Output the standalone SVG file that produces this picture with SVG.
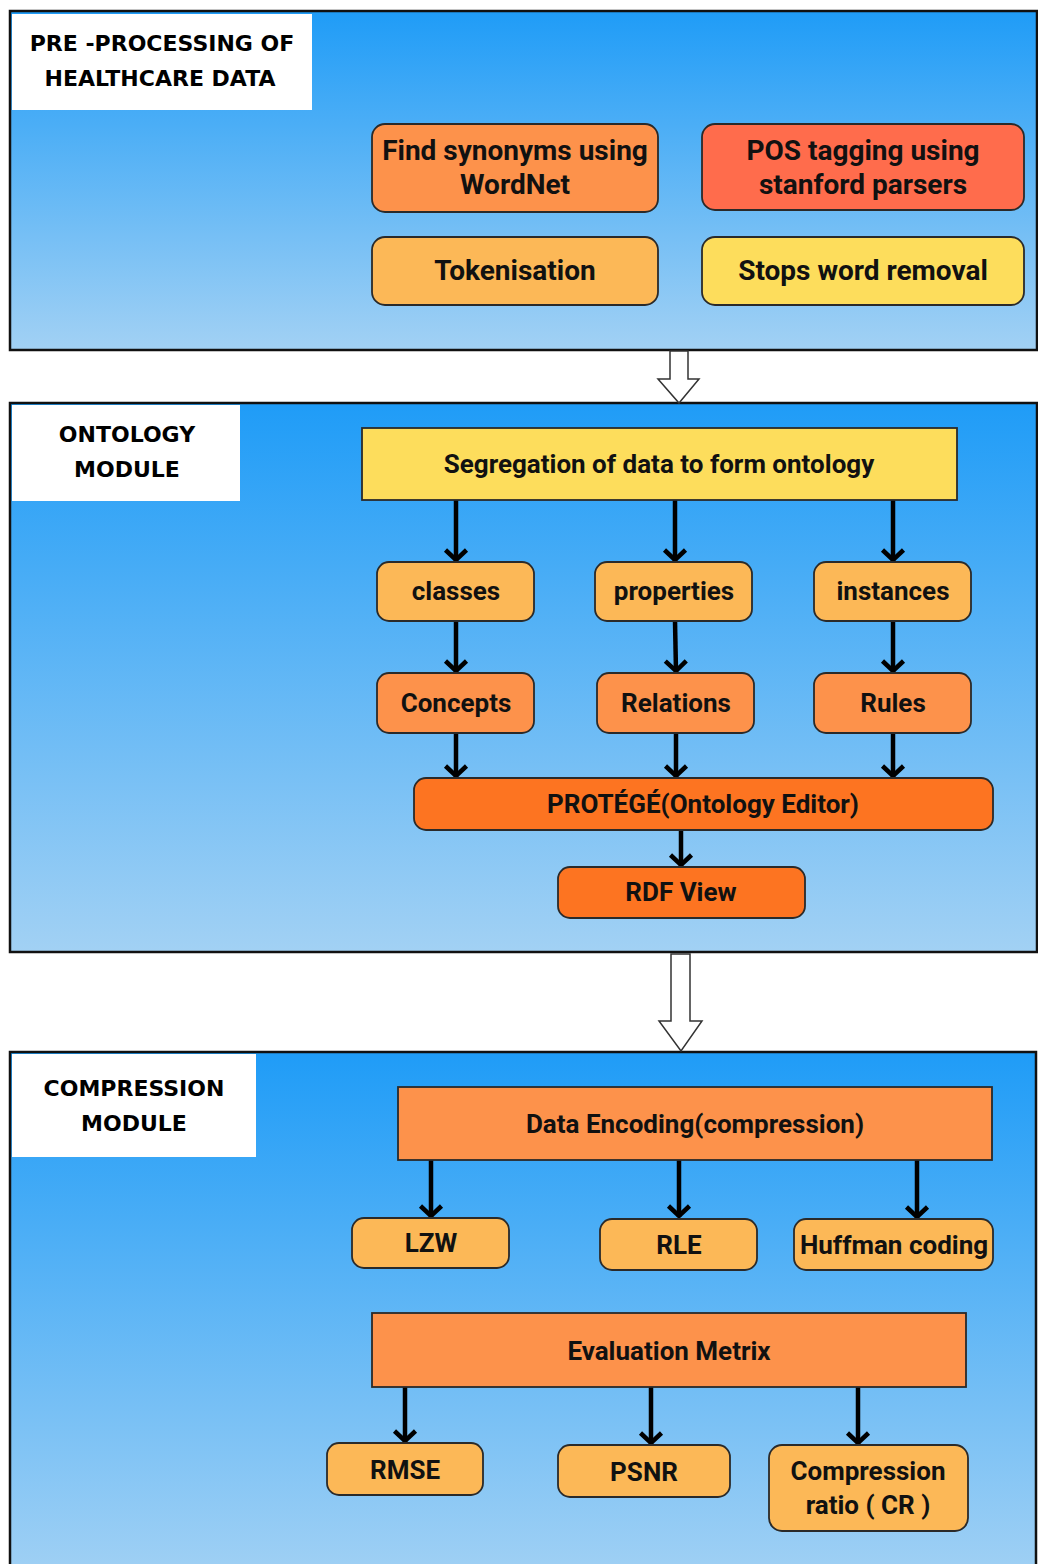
<svg xmlns="http://www.w3.org/2000/svg" width="1038" height="1564" viewBox="0 0 1038 1564">
<defs>
<linearGradient id="bg" x1="0" y1="0" x2="0" y2="1">
<stop offset="0" stop-color="#1f9cf7"/>
<stop offset="1" stop-color="#a2d1f4"/>
</linearGradient>
<marker id="ah" viewBox="0 0 16 26" refX="13" refY="13" markerWidth="16" markerHeight="26" markerUnits="userSpaceOnUse" orient="auto">
<polyline points="2,2.5 12,13 2,23.5" fill="none" stroke="#000" stroke-width="4.5" stroke-linejoin="miter" stroke-miterlimit="10"/>
</marker>
<style>
.panel{fill:url(#bg);stroke:#111;stroke-width:2.5}
.tbox{fill:#fff}
.title{font-family:"DejaVu Sans","Open Sans",sans-serif;font-weight:700;font-size:22px;fill:#000;text-anchor:middle}
.n{stroke:#2a2a2a;stroke-width:1.8}
.o1{fill:#fd924b}
.red{fill:#ff6c4c}
.lo{fill:#fcb857}
.ye{fill:#fddd5c}
.dk{fill:#fd7421}
.t{font-family:Roboto,"Noto Sans",sans-serif;font-weight:700;font-size:26px;fill:#111;text-anchor:middle;dominant-baseline:central}
.big{font-size:28px}
.arr{stroke:#000;stroke-width:4.5;fill:none}
.hol{fill:#fff;stroke:#333;stroke-width:1.5}
</style>
</defs>
<rect width="1038" height="1564" fill="#fff"/>

<g id="panel-preprocessing">
<rect class="panel" x="10" y="11" width="1027" height="339"/>
<rect class="tbox" x="12" y="14" width="300" height="96"/>
<text class="title" x="162" y="51">PRE -PROCESSING OF</text>
<text class="title" x="160" y="86">HEALTHCARE DATA</text>
</g>
<g id="panel-ontology">
<rect class="panel" x="10" y="403" width="1027" height="549"/>
<rect class="tbox" x="12" y="405" width="228" height="96"/>
<text class="title" x="127" y="442">ONTOLOGY</text>
<text class="title" x="127" y="477">MODULE</text>
</g>
<g id="panel-compression">
<rect class="panel" x="10" y="1052" width="1026" height="530"/>
<rect class="tbox" x="12" y="1054" width="244" height="103"/>
<text class="title" x="134" y="1096">COMPRESSION</text>
<text class="title" x="134" y="1131">MODULE</text>
</g>

<g id="connectors">
<path class="hol" d="M670,351 H688 V379 H699 L679,403 L658,379 H670 Z"/>
<path class="hol" d="M671,954 H690 V1021 H702 L681,1051 L659,1021 H671 Z"/>
<line class="arr" x1="456" y1="500" x2="456" y2="561" marker-end="url(#ah)"/>
<line class="arr" x1="675" y1="500" x2="675" y2="561" marker-end="url(#ah)"/>
<line class="arr" x1="893" y1="500" x2="893" y2="561" marker-end="url(#ah)"/>
<line class="arr" x1="456" y1="621" x2="456" y2="672" marker-end="url(#ah)"/>
<line class="arr" x1="675" y1="621" x2="676" y2="672" marker-end="url(#ah)"/>
<line class="arr" x1="893" y1="621" x2="893" y2="672" marker-end="url(#ah)"/>
<line class="arr" x1="456" y1="733" x2="456" y2="777" marker-end="url(#ah)"/>
<line class="arr" x1="676" y1="733" x2="676" y2="777" marker-end="url(#ah)"/>
<line class="arr" x1="893" y1="733" x2="893" y2="777" marker-end="url(#ah)"/>
<line class="arr" x1="681" y1="830" x2="681" y2="866" marker-end="url(#ah)"/>
<line class="arr" x1="431" y1="1160" x2="431" y2="1217" marker-end="url(#ah)"/>
<line class="arr" x1="679" y1="1160" x2="679" y2="1217" marker-end="url(#ah)"/>
<line class="arr" x1="917" y1="1160" x2="917" y2="1218" marker-end="url(#ah)"/>
<line class="arr" x1="405" y1="1387" x2="405" y2="1442" marker-end="url(#ah)"/>
<line class="arr" x1="651" y1="1387" x2="651" y2="1444" marker-end="url(#ah)"/>
<line class="arr" x1="858" y1="1387" x2="858" y2="1444" marker-end="url(#ah)"/>
</g>

<g id="node-synonyms">
<rect class="n o1" x="372" y="124" width="286" height="88" rx="13"/>
<text class="t big" x="515" y="150">Find synonyms using</text>
<text class="t big" x="515" y="184">WordNet</text>
</g>
<g id="node-pos">
<rect class="n red" x="702" y="124" width="322" height="86" rx="13"/>
<text class="t big" x="863" y="150">POS tagging using</text>
<text class="t big" x="863" y="184">stanford parsers</text>
</g>
<g id="node-tokenisation">
<rect class="n lo" x="372" y="237" width="286" height="68" rx="13"/>
<text class="t big" x="515" y="270">Tokenisation</text>
</g>
<g id="node-stopwords">
<rect class="n ye" x="702" y="237" width="322" height="68" rx="13"/>
<text class="t big" x="863" y="270">Stops word removal</text>
</g>

<g id="node-segregation">
<rect class="n ye" x="362" y="428" width="595" height="72"/>
<text class="t" x="659" y="464">Segregation of data to form ontology</text>
</g>
<g id="node-classes">
<rect class="n lo" x="377" y="562" width="157" height="59" rx="12"/>
<text class="t" x="456" y="591">classes</text>
</g>
<g id="node-properties">
<rect class="n lo" x="595" y="562" width="157" height="59" rx="12"/>
<text class="t" x="674" y="591">properties</text>
</g>
<g id="node-instances">
<rect class="n lo" x="814" y="562" width="157" height="59" rx="12"/>
<text class="t" x="893" y="591">instances</text>
</g>
<g id="node-concepts">
<rect class="n o1" x="377" y="673" width="157" height="60" rx="12"/>
<text class="t" x="456" y="703">Concepts</text>
</g>
<g id="node-relations">
<rect class="n o1" x="597" y="673" width="157" height="60" rx="12"/>
<text class="t" x="676" y="703">Relations</text>
</g>
<g id="node-rules">
<rect class="n o1" x="814" y="673" width="157" height="60" rx="12"/>
<text class="t" x="893" y="703">Rules</text>
</g>
<g id="node-protege">
<rect class="n dk" x="414" y="778" width="579" height="52" rx="12"/>
<text class="t" x="703" y="804">PROTÉGÉ(Ontology Editor)</text>
</g>
<g id="node-rdf">
<rect class="n dk" x="558" y="867" width="247" height="51" rx="12"/>
<text class="t" x="681" y="892">RDF View</text>
</g>

<g id="node-encoding">
<rect class="n o1" x="398" y="1087" width="594" height="73"/>
<text class="t" x="695" y="1124">Data Encoding(compression)</text>
</g>
<g id="node-lzw">
<rect class="n lo" x="352" y="1218" width="157" height="50" rx="12"/>
<text class="t" x="431" y="1243">LZW</text>
</g>
<g id="node-rle">
<rect class="n lo" x="600" y="1219" width="157" height="51" rx="12"/>
<text class="t" x="679" y="1245">RLE</text>
</g>
<g id="node-huffman">
<rect class="n lo" x="794" y="1219" width="199" height="51" rx="12"/>
<text class="t" x="894" y="1245">Huffman coding</text>
</g>
<g id="node-evaluation">
<rect class="n o1" x="372" y="1313" width="594" height="74"/>
<text class="t" x="669" y="1351">Evaluation Metrix</text>
</g>
<g id="node-rmse">
<rect class="n lo" x="327" y="1443" width="156" height="52" rx="12"/>
<text class="t" x="405" y="1470">RMSE</text>
</g>
<g id="node-psnr">
<rect class="n lo" x="558" y="1445" width="172" height="52" rx="12"/>
<text class="t" x="644" y="1472">PSNR</text>
</g>
<g id="node-cr">
<rect class="n lo" x="769" y="1445" width="199" height="86" rx="13"/>
<text class="t" x="868" y="1471">Compression</text>
<text class="t" x="868" y="1505">ratio ( CR )</text>
</g>
</svg>
